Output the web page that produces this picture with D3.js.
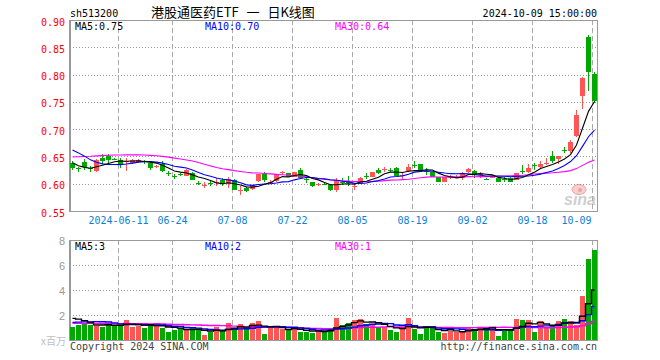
<!DOCTYPE html>
<html><head><meta charset="utf-8">
<script src="https://cdn.jsdelivr.net/npm/d3@7"></script>
<style>body{margin:0;background:#fff}svg{display:block}</style>
</head><body>
<svg id="c" width="660" height="360"></svg>
<script>
// ---------- data ----------
const dates = ["2024-05-29","2024-05-30","2024-05-31","2024-06-03","2024-06-04","2024-06-05","2024-06-06","2024-06-07","2024-06-11","2024-06-12",
"2024-06-13","2024-06-14","2024-06-17","2024-06-18","2024-06-19","2024-06-20","2024-06-21","2024-06-24","2024-06-25","2024-06-26",
"2024-06-27","2024-06-28","2024-07-01","2024-07-02","2024-07-03","2024-07-04","2024-07-05","2024-07-08","2024-07-09","2024-07-10",
"2024-07-11","2024-07-12","2024-07-15","2024-07-16","2024-07-17","2024-07-18","2024-07-19","2024-07-22","2024-07-23","2024-07-24",
"2024-07-25","2024-07-26","2024-07-29","2024-07-30","2024-07-31","2024-08-01","2024-08-02","2024-08-05","2024-08-06","2024-08-07",
"2024-08-08","2024-08-09","2024-08-12","2024-08-13","2024-08-14","2024-08-15","2024-08-16","2024-08-19","2024-08-20","2024-08-21",
"2024-08-22","2024-08-23","2024-08-26","2024-08-27","2024-08-28","2024-08-29","2024-08-30","2024-09-02","2024-09-03","2024-09-04",
"2024-09-05","2024-09-06","2024-09-09","2024-09-10","2024-09-11","2024-09-12","2024-09-13","2024-09-18","2024-09-19","2024-09-20",
"2024-09-23","2024-09-24","2024-09-25","2024-09-26","2024-09-27","2024-09-30","2024-10-08","2024-10-09"];

const open = [0.638,0.628,0.639,0.628,0.623,0.648,0.650,0.646,0.644,0.640,
0.638,0.640,0.641,0.638,0.630,0.636,0.620,0.614,0.618,0.615,
0.619,0.601,0.597,0.601,0.602,0.607,0.599,0.607,0.587,0.592,
0.591,0.605,0.617,0.602,0.605,0.620,0.619,0.613,0.625,0.608,
0.603,0.598,0.600,0.598,0.589,0.604,0.603,0.594,0.601,0.614,
0.613,0.626,0.626,0.626,0.628,0.615,0.623,0.634,0.636,0.624,
0.621,0.612,0.604,0.612,0.612,0.611,0.621,0.623,0.616,0.609,
0.612,0.611,0.609,0.611,0.607,0.623,0.621,0.634,0.630,0.637,
0.650,0.646,0.662,0.660,0.688,0.761,0.869,0.801];

const high = [0.641,0.631,0.646,0.633,0.645,0.654,0.654,0.648,0.647,0.647,
0.646,0.646,0.643,0.640,0.634,0.641,0.623,0.617,0.620,0.627,
0.621,0.605,0.604,0.607,0.610,0.611,0.613,0.608,0.595,0.594,
0.597,0.618,0.621,0.606,0.618,0.623,0.620,0.622,0.628,0.613,
0.604,0.601,0.602,0.600,0.610,0.611,0.615,0.601,0.613,0.619,
0.622,0.629,0.631,0.628,0.630,0.621,0.637,0.642,0.637,0.629,
0.622,0.613,0.613,0.616,0.616,0.622,0.628,0.625,0.622,0.611,
0.616,0.612,0.613,0.612,0.620,0.634,0.636,0.638,0.642,0.648,
0.660,0.650,0.668,0.680,0.735,0.795,0.872,0.804];

const low = [0.625,0.622,0.625,0.622,0.622,0.637,0.637,0.643,0.628,0.623,
0.636,0.638,0.637,0.626,0.629,0.621,0.615,0.608,0.614,0.614,
0.606,0.597,0.592,0.595,0.595,0.595,0.593,0.588,0.579,0.585,
0.589,0.604,0.603,0.600,0.604,0.616,0.612,0.612,0.610,0.601,
0.594,0.595,0.597,0.587,0.584,0.598,0.595,0.589,0.600,0.609,
0.612,0.617,0.621,0.622,0.614,0.607,0.621,0.629,0.624,0.616,
0.612,0.603,0.603,0.609,0.610,0.607,0.620,0.610,0.610,0.607,
0.610,0.603,0.604,0.603,0.606,0.618,0.619,0.626,0.627,0.634,
0.638,0.637,0.656,0.656,0.686,0.737,0.770,0.747];

const close = [0.628,0.627,0.630,0.627,0.644,0.642,0.643,0.645,0.634,0.642,
0.644,0.644,0.640,0.628,0.633,0.624,0.619,0.613,0.617,0.625,
0.607,0.600,0.598,0.600,0.603,0.599,0.609,0.589,0.588,0.586,
0.597,0.617,0.607,0.603,0.617,0.621,0.613,0.622,0.611,0.607,
0.595,0.600,0.599,0.589,0.607,0.603,0.601,0.595,0.611,0.613,
0.621,0.620,0.627,0.625,0.615,0.616,0.631,0.633,0.625,0.623,
0.613,0.603,0.612,0.613,0.613,0.619,0.627,0.616,0.617,0.608,
0.613,0.604,0.608,0.604,0.619,0.622,0.629,0.632,0.637,0.638,
0.641,0.650,0.661,0.677,0.726,0.794,0.805,0.752];

// volume, millions of shares
const volume = [1.07,1.20,1.31,1.23,1.23,1.04,1.28,1.15,1.23,1.60,
1.07,1.15,0.96,1.25,1.33,0.99,0.67,0.80,0.96,0.80,
0.93,0.80,0.40,0.67,1.07,0.72,1.36,0.88,1.28,0.93,
1.33,1.55,0.48,1.01,1.01,0.91,0.80,0.88,0.67,0.67,
0.59,0.80,0.67,0.96,1.79,1.20,1.36,1.63,1.68,1.28,
1.25,1.04,1.07,0.83,0.67,1.01,1.79,0.91,0.48,1.04,
1.04,0.67,0.59,0.75,0.61,0.67,1.04,0.91,1.04,0.85,
1.04,0.32,0.91,0.91,1.68,1.60,1.60,0.67,1.52,1.04,
1.09,1.52,1.68,1.55,1.23,3.55,6.48,7.20];

// estimated sessions before the window, only used so the moving averages start where the reference's do
const preClose = [0.612,0.615,0.618,0.622,0.625,0.628,0.630,0.633,0.636,0.640,
0.643,0.646,0.650,0.654,0.658,0.662,0.666,0.670,0.674,0.668,
0.680,0.690,0.695,0.688,0.672,0.655,0.645,0.635,0.630];
const preVolume = [1.2,1.4,1.1,1.3,1.5,1.25,1.35,1.2,1.1,1.45,
1.3,1.25,1.4,1.2,1.3,1.35,1.15,1.3,1.4,1.25,
1.0,1.1,1.2,1.05,1.1,1.5,1.9,2.0,2.18];

const priceTicks = [0.55,0.60,0.65,0.70,0.75,0.80,0.85,0.90];
const volTicks = [2,4,6,8];
const xTickDates = ["2024-06-11","2024-06-24","2024-07-08","2024-07-22","2024-08-05","2024-08-19","2024-09-02","2024-09-18","2024-10-09"];
const xTickLabels = ["2024-06-11","06-24","07-08","07-22","08-05","08-19","09-02","09-18","10-09"];
const maPeriods = [5,10,30];
const priceMALabels = ["MA5:0.75","MA10:0.70","MA30:0.64"];
const volMALabels = ["MA5:3","MA10:2","MA30:1"];
const codeText = "sh513200";
const titleText = "港股通医药ETF 一 日K线图";
const timeText = "2024-10-09 15:00:00";
const unitText = "x百万";
const copyText = "Copyright 2024 SINA.COM";
const urlText = "http://finance.sina.com.cn";

// ---------- drawing ----------
const svg = d3.select("#c");
const L = 70, R = 597, PT = 20, PB = 211, VT = 240, VB = 340;
const n = dates.length;
const x = d3.scaleLinear().domain([0, n]).range([L, L + 6 * n]);
const y = d3.scaleLinear().domain([0.55, 0.90]).range([PB, PT]);
const yv = d3.scaleLinear().domain([0, 8]).range([VB, VT]);
const UP = "#ff5555", DOWN = "#00a800";
const maColors = ["#000000", "#0000ff", "#ff00ff"];
const mono = "'DejaVu Sans Mono', 'Liberation Mono', monospace";
const idx = d3.range(n);
const tickIdx = xTickDates.map(d => dates.indexOf(d));

function movingAvg(pre, arr, p) {
  const all = pre.concat(arr), off = pre.length;
  return arr.map((_, i) => d3.mean(all.slice(off + i - p + 1, off + i + 1)));
}

// header texts
svg.append("text").attr("x", 70).attr("y", 16.5).attr("font-family", mono).attr("font-size", 10).attr("fill", "#000").text(codeText);
svg.append("text").attr("x", 151).attr("y", 17).attr("font-family", "'Noto Sans CJK SC', sans-serif").attr("font-size", 13)
  .attr("fill", "#000").style("white-space", "pre").style("word-spacing", "5px").text(titleText);
svg.append("text").attr("x", 597).attr("y", 16.5).attr("text-anchor", "end").attr("font-family", mono).attr("font-size", 10).attr("fill", "#000").text(timeText);

// watermark
const wm = svg.append("g");
wm.append("ellipse").attr("cx", 579).attr("cy", 189.5).attr("rx", 7).attr("ry", 5).attr("fill", "#f8d0d0").attr("stroke", "#f0a0a0").attr("stroke-width", 1);
wm.append("circle").attr("cx", 580).attr("cy", 190).attr("r", 2).attr("fill", "#f0a0a0");
wm.append("text").attr("x", 564).attr("y", 205).attr("font-family", "'Liberation Sans', Arial, sans-serif").attr("font-style", "italic").attr("font-weight", "bold").attr("font-size", 16).attr("fill", "#cfcfcf").text("sina");

function panelGrid(top, bottom, hTicks, scale) {
  const g = svg.append("g");
  g.selectAll("line.h").data(hTicks).enter().append("line")
    .attr("x1", L).attr("x2", R).attr("y1", d => Math.round(scale(d)) + 0.5).attr("y2", d => Math.round(scale(d)) + 0.5)
    .attr("stroke", "#999").attr("stroke-dasharray", "1,2");
  g.selectAll("line.v").data(tickIdx).enter().append("line")
    .attr("x1", i => x(i) + 0.5).attr("x2", i => x(i) + 0.5).attr("y1", top).attr("y2", bottom)
    .attr("stroke", "#aaa").attr("stroke-dasharray", "5,3");
}
panelGrid(PT, PB, priceTicks.filter(t => t > 0.55 && t < 0.90), y);
panelGrid(VT, VB, volTicks.filter(t => t < 8), yv);

// frames
function frame(top, bottom) {
  svg.append("rect").attr("x", L + 0.5).attr("y", top + 0.5).attr("width", R - L).attr("height", bottom - top)
    .attr("fill", "none").attr("stroke", "#999");
  svg.append("line").attr("x1", L).attr("x2", L).attr("y1", top).attr("y2", bottom + 1).attr("stroke", "#999").attr("stroke-width", 2);
}
frame(PT, PB);
frame(VT, VB);

// price axis labels
const ya = svg.append("g").attr("transform", `translate(${L - 4},0)`)
  .call(d3.axisLeft(y).tickValues(priceTicks).tickFormat(d3.format(".2f")).tickSize(0).tickPadding(1));
ya.select(".domain").remove();
ya.selectAll("text").attr("font-family", mono).attr("font-size", 10).attr("fill", "#f00").attr("dy", "0.5em");

// volume axis labels
const va = svg.append("g").attr("transform", `translate(${L - 4},0)`)
  .call(d3.axisLeft(yv).tickValues(volTicks).tickFormat(d3.format("d")).tickSize(0).tickPadding(1));
va.select(".domain").remove();
va.selectAll("text").attr("font-family", "'Liberation Sans', Arial, sans-serif").attr("font-size", 11).attr("fill", "#999").attr("dy", "0.38em");
svg.append("text").attr("x", 66).attr("y", 345).attr("text-anchor", "end").attr("font-family", "'Noto Sans CJK SC', sans-serif").attr("font-size", 10).attr("fill", "#c0c0c0").text(unitText);

// x axis labels (the last one is kept inside the frame, as in the reference)
const xa = svg.append("g").attr("transform", `translate(0,${PB + 4})`)
  .call(d3.axisBottom(x).tickValues(tickIdx).tickFormat((d, k) => xTickLabels[k]).tickSize(0).tickPadding(0));
xa.select(".domain").remove();
xa.selectAll("text").attr("font-family", mono).attr("font-size", 10).attr("fill", "#0b7fd6").attr("dy", "0.9em");
xa.selectAll("text").filter((d, k) => k === tickIdx.length - 1).attr("text-anchor", "end").attr("dx", 0);
xa.selectAll(".tick").filter((d, k) => k === tickIdx.length - 1).select("text").attr("x", -1);

// candles
const up = i => close[i] >= open[i];
const cg = svg.append("g");
cg.selectAll("rect.wick").data(idx).enter().append("rect")
  .attr("x", i => x(i) + 2).attr("width", 1)
  .attr("y", i => Math.round(y(high[i]))).attr("height", i => Math.max(1, Math.round(y(low[i])) - Math.round(y(high[i]))))
  .attr("fill", i => up(i) ? UP : DOWN);
cg.selectAll("rect.body").data(idx).enter().append("rect")
  .attr("x", i => x(i)).attr("width", 5)
  .attr("y", i => Math.round(y(Math.max(open[i], close[i]))))
  .attr("height", i => Math.max(1, Math.round(y(Math.min(open[i], close[i]))) - Math.round(y(Math.max(open[i], close[i])))))
  .attr("fill", i => up(i) ? UP : DOWN);

// price MAs
maPeriods.slice().reverse().forEach((p, k) => {
  const m = movingAvg(preClose, close, p);
  const line = d3.line().x((d, i) => x(i) + 2.5).y(d => y(d));
  svg.append("path").attr("d", line(m)).attr("fill", "none")
    .attr("stroke", maColors[maPeriods.length - 1 - k]).attr("stroke-width", 1.1);
});

// volume bars
svg.append("g").selectAll("rect").data(idx).enter().append("rect")
  .attr("x", i => x(i)).attr("width", 5)
  .attr("y", i => Math.round(yv(volume[i]))).attr("height", i => VB - Math.round(yv(volume[i])))
  .attr("fill", i => up(i) ? UP : DOWN);

// volume MAs
maPeriods.slice().reverse().forEach((p, k) => {
  const m = movingAvg(preVolume, volume, p);
  const line = d3.line().x((d, i) => x(i) + 2.5).y(d => yv(d)).curve(d3.curveStep);
  svg.append("path").attr("d", line(m)).attr("fill", "none")
    .attr("stroke", maColors[maPeriods.length - 1 - k]).attr("stroke-width", 1.4);
});

// MA legends
const legendX = [75, 205, 335];
priceMALabels.forEach((t, k) => svg.append("text").attr("x", legendX[k]).attr("y", 29.5)
  .attr("font-family", mono).attr("font-size", 10).attr("fill", maColors[k]).text(t));
volMALabels.forEach((t, k) => svg.append("text").attr("x", legendX[k]).attr("y", 250)
  .attr("font-family", mono).attr("font-size", 10).attr("fill", maColors[k]).text(t));

// footer
svg.append("text").attr("x", 70).attr("y", 350).attr("font-family", mono).attr("font-size", 10).attr("fill", "#444").text(copyText);
svg.append("text").attr("x", 597).attr("y", 350).attr("text-anchor", "end").attr("font-family", mono).attr("font-size", 10).attr("fill", "#444").text(urlText);
</script>
</body></html>
